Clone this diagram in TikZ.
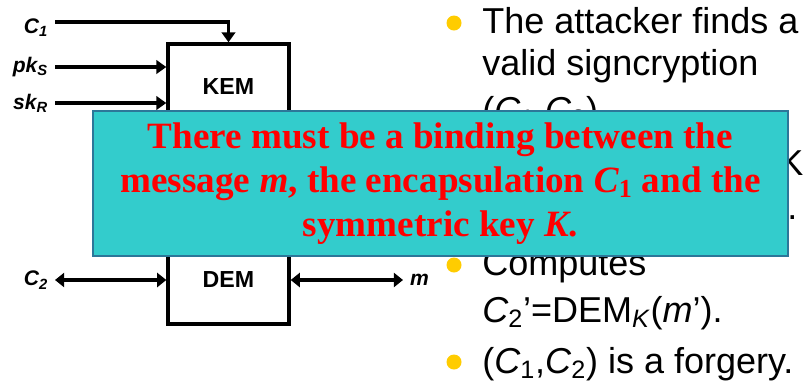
\documentclass[tikz,border=0pt]{standalone}
\usepackage{fontspec}
\setmainfont{Liberation Serif}
\setsansfont{Liberation Sans}
\usetikzlibrary{arrows.meta}

\definecolor{notefill}{HTML}{33CCCC}
\definecolor{noteedge}{HTML}{2C7799}
\definecolor{bulletcol}{HTML}{FFCC00}

\tikzset{
  blockbox/.style={draw, line width=2.4pt, minimum width=3.025cm,
    font=\sffamily\bfseries\fontsize{16.5}{18}\selectfont},
  inlabel/.style={inner sep=0pt, outer sep=5pt,
    font=\sffamily\bfseries\itshape\fontsize{15}{17}\selectfont},
  wire/.style={line width=2.4pt, -{Triangle[length=7pt,width=9.5pt]}},
  dwire/.style={line width=2.4pt,
    {Triangle[length=6.5pt,width=10pt]}-{Triangle[length=6.5pt,width=10pt]}},
  bulletdot/.style={circle, fill=bulletcol, inner sep=0pt, minimum size=0.375cm},
  bullettext/.style={anchor=base west, inner sep=0pt,
    font=\sffamily\fontsize{25.6}{30}\selectfont},
  note/.style={draw=noteedge, line width=1pt, fill=notefill,
    minimum width=17.375cm, minimum height=3.625cm, align=center, text=red,
    font=\rmfamily\bfseries\fontsize{26.4}{31.3}\selectfont}
}

\begin{document}
\begin{tikzpicture}[x=0.025cm, y=-0.025cm]
  \useasboundingbox (0,0) rectangle (808,384);

  \node[blockbox, minimum height=2.125cm] (kem) at (228.5,86.5) {KEM};
  \node[blockbox, minimum height=2.2cm] (dem) at (228.5,280) {DEM};

  \node[inlabel, anchor=east] (c1) at (55,28) {C\textsubscript{1}};
  \node[inlabel, anchor=east] (pk) at (55,67) {pk\textsubscript{S}};
  \node[inlabel, anchor=east] (sk) at (55,103) {sk\textsubscript{R}};
  \node[inlabel, anchor=east] (c2) at (55,280) {C\textsubscript{2}};
  \node[inlabel, anchor=west] (m) at (403,280) {m};

  \draw[wire] ([yshift=4.3pt]c1.east) -| (kem.north);
  \draw[wire] (pk) -- (pk -| kem.west);
  \draw[wire] (sk) -- (sk -| kem.west);
  \draw[dwire] (c2) -- (c2 -| dem.west);
  \draw[dwire] (dem.east) -- (m);

  \node[bulletdot] (d1) at (454,23) {};
  \node[bullettext] (t1) at (482,33) {The attacker finds a};
  \node[bullettext] (t2) at (482,75) {valid signcryption};
  \node[bullettext] (t3) at (482,122) {(\textit{C}\textsubscript{1},\textit{C}\textsubscript{2})};
  \node[bullettext] (t4) at (779,175) {K};
  \node[bullettext] (t5) at (787,219) {.};
  \node[bulletdot] (d2) at (454,265) {};
  \node[bullettext] (t6) at (482,275) {Computes};
  \node[bullettext] (t7) at (482,322) {\textit{C}\textsubscript{2}’=DEM\textsubscript{\textit{K}}(\textit{m}’).};
  \node[bulletdot] (d3) at (454,362) {};
  \node[bullettext] (t8) at (482,373) {(\textit{C}\textsubscript{1},\textit{C}\textsubscript{2}) is a forgery.};

  \node[note] (msg) at (440.5,183.5) {There must be a binding between the\\
    message \textit{m}, the encapsulation \textit{C}\textsubscript{1} and the\\
    symmetric key \textit{K}.};
\end{tikzpicture}
\end{document}
